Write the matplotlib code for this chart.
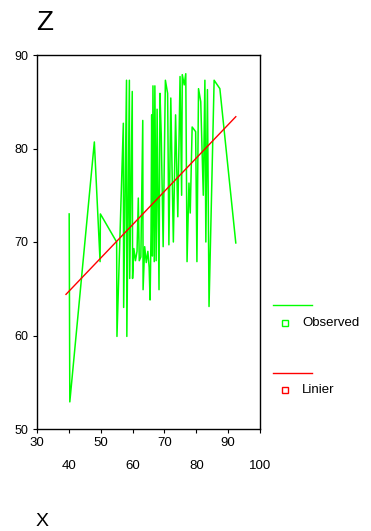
import matplotlib
matplotlib.use("Agg")
import matplotlib.pyplot as plt
from matplotlib.lines import Line2D

plt.rcParams['font.family'] = ['Liberation Sans', 'DejaVu Sans']

# Observed series (sorted by X)
obs_x = [40.1, 40.3, 48.0, 49.8, 49.9, 55.0, 55.1, 57.1, 57.2, 58.1, 58.2, 59.0, 59.1,
         59.9, 60.0, 60.4, 60.9, 61.4, 61.8, 62.1, 62.6, 63.2, 63.3, 63.8, 64.3, 64.8,
         65.2, 65.5, 65.8, 66.0, 66.2, 66.4, 66.8, 67.0, 67.4, 67.7, 68.3, 68.6, 69.0,
         69.6, 70.3, 71.0, 71.4, 72.0, 72.8, 73.5, 74.2, 74.9, 75.4, 75.6, 76.2, 76.7,
         77.1, 77.7, 78.1, 78.7, 79.8, 80.2, 80.7, 81.4, 82.2, 82.7, 83.0, 83.5, 84.0,
         85.6, 87.4, 92.4]
obs_z = [73.0, 52.9, 80.7, 67.9, 73.0, 70.0, 59.9, 82.7, 63.0, 87.3, 59.9, 87.3, 66.1,
         86.1, 66.1, 69.3, 68.0, 69.0, 74.7, 68.0, 68.4, 83.0, 64.9, 69.5, 67.8, 69.0,
         67.3, 63.8, 71.0, 83.6, 68.5, 86.7, 67.9, 86.7, 68.0, 84.2, 64.9, 85.9, 81.5,
         69.5, 87.3, 85.9, 69.7, 85.4, 70.0, 83.6, 72.7, 87.7, 75.0, 87.9, 86.8, 88.0,
         67.9, 76.3, 73.1, 82.3, 81.8, 67.9, 86.4, 85.0, 75.0, 87.3, 70.0, 86.3, 63.1,
         87.3, 86.4, 69.9]

# Linear fit line
lin_x = [39.1, 92.4]
lin_z = [64.4, 83.4]

x_ticks = [30, 40, 50, 60, 70, 80, 90, 100]
y_ticks = [50, 60, 70, 80, 90]

GREEN = '#00ff00'
RED = '#ff0000'

fig = plt.figure(figsize=(3.71, 5.31), dpi=100)
ax = fig.add_axes([37/371, 1 - 429/531, (260-37)/371, (429-55)/531])

ax.plot(obs_x, obs_z, color=GREEN, lw=1.1)
ax.plot(lin_x, lin_z, color=RED, lw=1.0)

ax.set_xlim(30, 100)
ax.set_ylim(50, 90)
ax.set_yticks(y_ticks)
ax.set_yticklabels([str(v) for v in y_ticks], fontsize=9)
ax.set_xticks(x_ticks)
labels = [str(v) if i % 2 == 0 else '\n' + str(v) for i, v in enumerate(x_ticks)]
ax.set_xticklabels(labels, fontsize=9.5)
for t in ax.get_xticklabels():
    t.set_linespacing(2.2)
ax.tick_params(axis='both', direction='out', length=3, width=0.8, pad=3)
for s in ax.spines.values():
    s.set_linewidth(1.0)

fig.text(36/371, 1 - 23/531, 'Z', fontsize=20, ha='left', va='center')
fig.text(36/371, 1 - 521/531, 'X', fontsize=14, ha='left', va='center')

# Legend (outside, right)
W, H = 371, 531
fig.add_artist(Line2D([273/W, 312/W], [1 - 305/H, 1 - 305/H], color=GREEN, lw=1.0))
fig.add_artist(Line2D([285/W], [1 - 323/H], marker='s', ms=4, mfc='none', mec=GREEN, mew=1.0, ls='none'))
fig.text(302/W, 1 - 323/H, 'Observed', fontsize=9.5, ha='left', va='center')
fig.add_artist(Line2D([273/W, 312/W], [1 - 373/H, 1 - 373/H], color=RED, lw=1.0))
fig.add_artist(Line2D([285/W], [1 - 390/H], marker='s', ms=4, mfc='none', mec=RED, mew=1.0, ls='none'))
fig.text(302/W, 1 - 390/H, 'Linier', fontsize=9.5, ha='left', va='center')

fig.savefig('out.png', dpi=100)
